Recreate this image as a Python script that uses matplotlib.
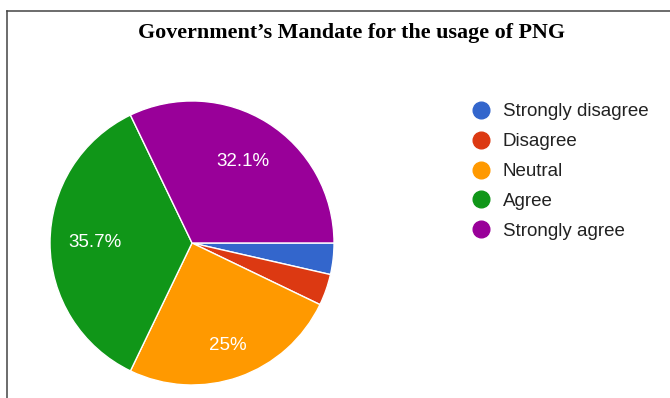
import matplotlib.pyplot as plt
from matplotlib.lines import Line2D

labels = ['Strongly disagree', 'Disagree', 'Neutral', 'Agree', 'Strongly agree']
counts = [1, 1, 7, 10, 9]
colors = ['#3366cc', '#dc3912', '#ff9900', '#109618', '#990099']

fig = plt.figure(figsize=(6.7, 3.98), dpi=100)

# thin frame along the top and left edge
fig.add_artist(Line2D([0.011, 0.011], [0, 0.972], color='#444444', lw=1.1))
fig.add_artist(Line2D([0.011, 1], [0.972, 0.972], color='#444444', lw=1.1))

fig.text(0.525, 0.917, 'Government\u2019s Mandate for the usage of PNG',
         ha='center', va='center', fontsize=15.8, fontweight='bold',
         family='Liberation Serif')

ax = fig.add_axes([0.0746, 0.0327, 0.424, 0.7136])


def pct_label(p):
    return '' if p < 5 else ('%.1f%%' % p).replace('.0%', '%')


wedges, texts, autotexts = ax.pie(
    counts, colors=colors, startangle=0, counterclock=False,
    autopct=pct_label, pctdistance=0.68,
    wedgeprops=dict(edgecolor='white', linewidth=1),
    textprops=dict(color='white', fontsize=13.5, family='Liberation Sans'))

# the neutral label sits a little further out
x, y = autotexts[2].get_position()
autotexts[2].set_position((x * 1.13, y * 1.13))

ax.set_xlim(-1.0, 1.0)
ax.set_ylim(-1.0, 1.0)
ax.set_aspect('equal')

handles = [Line2D([], [], marker='o', linestyle='none', markersize=12,
                  markerfacecolor=c, markeredgecolor=c) for c in colors]
fig.legend(handles, labels, loc='upper left', bbox_to_anchor=(0.665, 0.783),
           frameon=False, handletextpad=0.15, labelspacing=0.68,
           prop=dict(family='Liberation Sans', size=13.5), labelcolor='#222222')

fig.savefig('out.png', dpi=100, facecolor='white')
